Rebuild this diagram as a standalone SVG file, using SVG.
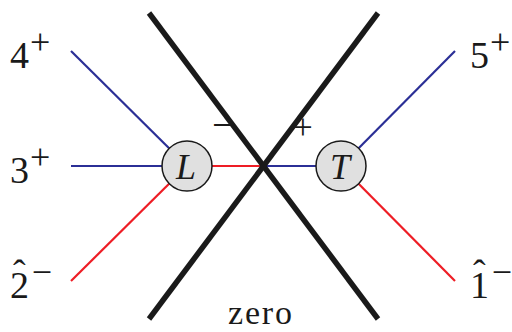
<svg xmlns="http://www.w3.org/2000/svg" width="512" height="332" viewBox="0 0 512 332">
<style>
.b{stroke:#2b2f96;stroke-width:2.2;fill:none}
.r{stroke:#ee1d25;stroke-width:2.2;fill:none}
.k{stroke:#1a1a1a;stroke-width:5.5;fill:none}
text{font-family:'Liberation Serif','DejaVu Serif',serif;fill:#1a1a1a}
.n{fill:#e0e0e0;stroke:#1a1a1a;stroke-width:1.5}
.d{font-size:38px}
.s{font-size:36px}
</style>
<rect width="512" height="332" fill="#fff"/>
<g id="connectors">
<line class="b" x1="71" y1="51" x2="187" y2="166"/>
<line class="b" x1="71" y1="166" x2="187" y2="166"/>
<line class="r" x1="71" y1="281" x2="187" y2="166"/>
<line class="r" x1="187" y1="166" x2="263" y2="166"/>
<line class="b" x1="263" y1="166" x2="341" y2="166"/>
<line class="b" x1="455" y1="51" x2="341" y2="166"/>
<line class="r" x1="455" y1="281" x2="341" y2="166"/>
<line class="k" x1="149" y1="13" x2="378" y2="319"/>
<line class="k" x1="378" y1="13" x2="149" y2="319"/>
</g>
<g id="L"><circle class="n" cx="187" cy="166" r="25"/><text x="186" y="179" font-size="36" font-style="italic" text-anchor="middle">L</text></g>
<g id="T"><circle class="n" cx="341" cy="166" r="25"/><text x="340" y="179" font-size="36" font-style="italic" text-anchor="middle">T</text></g>
<g id="labels">
<text class="d" x="10" y="68">4<tspan class="s" dx="1" dy="-14">+</tspan></text>
<text class="d" x="10" y="183">3<tspan class="s" dx="1" dy="-14">+</tspan></text>
<text class="d" x="10" y="298">2<tspan dx="-16" dy="-12">ˆ</tspan><tspan class="s" dx="6" dy="-2">−</tspan></text>
<text class="d" x="470" y="68">5<tspan class="s" dx="1" dy="-14">+</tspan></text>
<text class="d" x="470" y="298">1<tspan dx="-16" dy="-12">ˆ</tspan><tspan class="s" dx="6" dy="-2">−</tspan></text>
<text x="212" y="138" font-size="40">−</text>
<text x="293" y="139" font-size="35">+</text>
<text x="260" y="324" font-size="34" text-anchor="middle" textLength="64">zero</text>
</g>
</svg>
